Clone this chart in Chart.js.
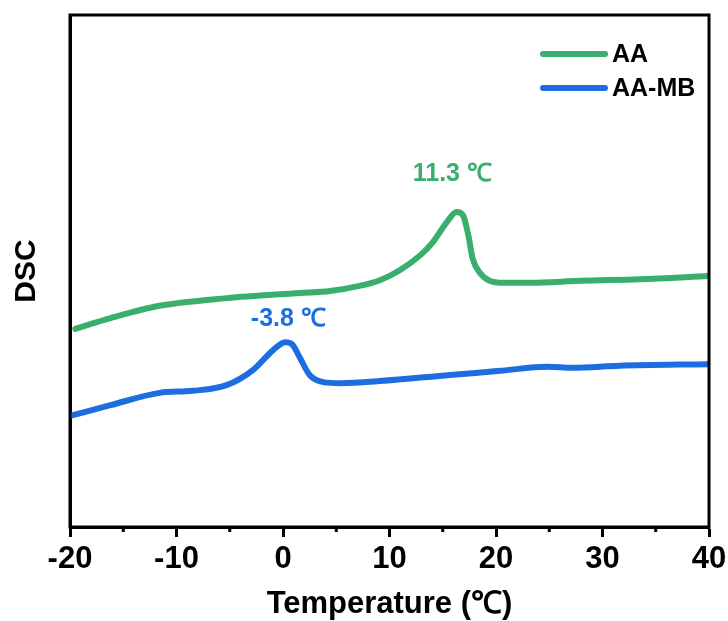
<!DOCTYPE html>
<html>
<head>
<meta charset="utf-8">
<script src="https://cdn.jsdelivr.net/npm/chart.js@4/dist/chart.umd.min.js"></script>
<style>
  html, body { margin: 0; padding: 0; background: #ffffff; }
  #wrap { width: 728px; height: 621px; }
</style>
</head>
<body>
<div id="wrap"><canvas id="c" width="728" height="621"></canvas></div>
<script>
// ---- data ----
const seriesNames = ['AA', 'AA-MB'];
const seriesColors = ['rgb(58,174,108)', 'rgb(28,110,224)'];

const aaTemp = [-19.5, -16.2, -11.6, -5.3, 1.6, 4.4, 7.2, 9.1, 11.0, 12.9, 14.1, 15.4, 16.3, 16.9, 17.4, 17.8, 18.5, 19.4, 20.7, 23.2, 27.9, 33.5, 39.9];
const aaDSC  = [38.7, 40.8, 43.2, 44.7, 45.7, 46.1, 47.1, 48.2, 50.2, 53.1, 55.7, 59.6, 61.5, 60.9, 57.0, 52.5, 49.6, 48.1, 47.7, 47.7, 48.1, 48.4, 49.0];

const mbTemp = [-20.0, -16.2, -11.6, -8.5, -5.3, -2.8, -0.9, 0.2, 0.85, 1.6, 2.5, 3.8, 5.4, 9.1, 15.7, 20.4, 24.8, 27.2, 31.6, 39.9];
const mbDSC  = [21.7, 23.8, 26.2, 26.6, 27.7, 30.7, 34.6, 36.1, 35.7, 33.0, 29.7, 28.3, 28.1, 28.5, 29.7, 30.5, 31.3, 31.1, 31.5, 31.8];

const xTicks = [-20, -10, 0, 10, 20, 30, 40];
const xMinorTicks = [-15, -5, 5, 15, 25, 35];

const peakLabels = ['11.3 ℃', '-3.8 ℃'];
const peakLabelX = [15.9, 0.5];
const peakLabelY = [69.0, 40.6];

const xTitle = 'Temperature (℃)';
const yTitle = 'DSC';

// ---- helpers ----
function toPoints(xs, ys) { return xs.map((x, i) => ({ x: x, y: ys[i] })); }
const FONT = "'Liberation Sans', Arial, sans-serif";

const framePlugin = {
  id: 'frame',
  afterDraw(chart) {
    const ctx = chart.ctx;
    const a = chart.chartArea;
    const xs = chart.scales.x;
    const ys = chart.scales.y;
    ctx.save();
    // frame
    ctx.strokeStyle = '#000';
    ctx.lineWidth = 3;
    ctx.strokeRect(a.left, a.top, a.right - a.left, a.bottom - a.top);
    // minor ticks
    ctx.lineWidth = 3;
    xMinorTicks.forEach(v => {
      const px = xs.getPixelForValue(v);
      ctx.beginPath();
      ctx.moveTo(px, a.bottom);
      ctx.lineTo(px, a.bottom + 5);
      ctx.stroke();
    });
    // peak labels
    ctx.font = "bold 25px " + FONT;
    ctx.textAlign = 'center';
    ctx.textBaseline = 'middle';
    peakLabels.forEach((t, i) => {
      ctx.fillStyle = seriesColors[i];
      ctx.fillText(t, xs.getPixelForValue(peakLabelX[i]), ys.getPixelForValue(peakLabelY[i]));
    });
    // legend
    const lx0 = 543, lx1 = 605;
    const ly = [54, 88];
    ctx.lineCap = 'round';
    ctx.lineWidth = 6;
    ctx.textAlign = 'left';
    ctx.font = "bold 25px " + FONT;
    seriesNames.forEach((n, i) => {
      ctx.strokeStyle = seriesColors[i];
      ctx.beginPath();
      ctx.moveTo(lx0, ly[i]);
      ctx.lineTo(lx1, ly[i]);
      ctx.stroke();
      ctx.fillStyle = '#000';
      ctx.fillText(n, 612, ly[i] + 1);
    });
    ctx.restore();
  }
};

new Chart(document.getElementById('c'), {
  type: 'line',
  data: {
    datasets: [
      { label: seriesNames[0], data: toPoints(aaTemp, aaDSC), borderColor: seriesColors[0], borderWidth: 6, pointRadius: 0, cubicInterpolationMode: 'monotone', fill: false, borderCapStyle: 'round', borderJoinStyle: 'round' },
      { label: seriesNames[1], data: toPoints(mbTemp, mbDSC), borderColor: seriesColors[1], borderWidth: 6, pointRadius: 0, cubicInterpolationMode: 'monotone', fill: false, borderCapStyle: 'round', borderJoinStyle: 'round' }
    ]
  },
  options: {
    responsive: false,
    animation: false,
    devicePixelRatio: 1,
    layout: { padding: { top: 15, right: 19, left: 0, bottom: 0 } },
    plugins: { legend: { display: false }, tooltip: { enabled: false } },
    scales: {
      x: {
        type: 'linear',
        min: -20, max: 40,
        afterFit(scale) { scale.height = 94; scale.paddingRight = 0; scale.paddingLeft = 0; },
        afterBuildTicks(scale) { scale.ticks = xTicks.map(v => ({ value: v })); },
        ticks: { color: '#000', font: { family: FONT, size: 31, weight: 'bold' }, padding: 4, maxRotation: 0, autoSkip: false },
        grid: { drawOnChartArea: false, drawTicks: true, tickLength: 10, tickWidth: 3, tickColor: '#000' },
        border: { display: true, color: '#000', width: 3 },
        title: { display: true, text: xTitle, color: '#000', font: { family: FONT, size: 31, weight: 'bold' }, padding: { top: 0, bottom: -2 } }
      },
      y: {
        type: 'linear',
        min: 0, max: 100,
        afterFit(scale) { scale.width = 70; },
        ticks: { display: false },
        grid: { display: false },
        border: { display: true, color: '#000', width: 3 },
        title: { display: true, text: yTitle, color: '#000', font: { family: FONT, size: 30, weight: 'bold' }, padding: { top: 9, bottom: 0 } }
      }
    }
  },
  plugins: [framePlugin]
});
</script>
</body>
</html>
